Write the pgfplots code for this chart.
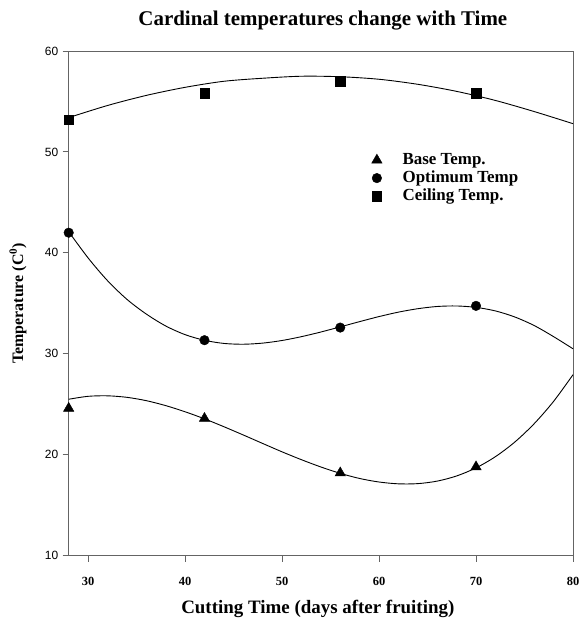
\documentclass[border=0pt]{standalone}
\usepackage{pgfplots}
\pgfplotsset{compat=1.18}
\usepackage{fontspec}
\setmainfont{Liberation Serif}
\setsansfont{Liberation Sans}

\definecolor{axisgray}{RGB}{100,100,100}

\begin{document}
\begin{tikzpicture}
% page frame: the axis box sits at (0,0) with the reference's margins around it
\path[use as bounding box] (-68.7bp,-63.3bp) rectangle (510.3bp,504.7bp+51bp);
\begin{axis}[
    at={(0,0)}, anchor=south west,
    scale only axis,
    width=504.3bp, height=504.7bp,
    xmin=28, xmax=80, ymin=10, ymax=60,
    xtick={30,40,...,80},
    ytick={10,20,...,60},
    axis line style={axisgray, line width=0.9bp},
    tick style={axisgray, line width=0.9bp},
    xtick pos=bottom, ytick pos=left,
    tick align=outside,
    major tick length=6bp,
    /pgf/number format/assume math mode=true,
    xticklabel style={font=\fontsize{12.5}{12.5}\selectfont\bfseries, yshift=-12bp},
    yticklabel style={font=\fontsize{12}{12}\selectfont\sffamily, xshift=-1bp},
    title={Cardinal temperatures change with Time},
    title style={font=\fontsize{21}{21}\selectfont\bfseries,
        at={(axis description cs:0.504,1.0383)}, anchor=base},
    xlabel={Cutting Time (days after fruiting)},
    xlabel style={font=\fontsize{19}{19}\selectfont\bfseries,
        at={(axis description cs:0.494,-0.1187)}, anchor=base, yshift=2.5bp},
    ylabel={Temperature (C\textsuperscript{0})},
    ylabel style={font=\fontsize{16}{16}\selectfont\bfseries,
        at={(axis description cs:-0.1005,0.5)}, anchor=center},
    legend style={draw=none, fill=none,
        at={(axis description cs:0.5945,0.806)}, anchor=north west,
        font=\fontsize{17}{18}\selectfont\bfseries,
        nodes={inner sep=1.5bp, text height=11.5bp, text depth=3.5bp},
        /tikz/every odd column/.append style={column sep=19bp}},
    legend cell align=left,
]

% fitted curves
\addplot[black, line width=0.9bp, smooth, forget plot] coordinates {
    (28,25.50) (30,25.79) (32,25.84) (34,25.69) (36,25.36) (38,24.87)
    (40,24.26) (42,23.56) (44,22.78) (46,21.96) (48,21.12) (50,20.29)
    (52,19.51) (54,18.79) (56,18.16) (58,17.65) (60,17.30) (62,17.12)
    (64,17.14) (66,17.39) (68,17.90) (70,18.70) (72,19.81) (74,21.26)
    (76,23.08) (78,25.29) (80,27.93)
};
\addplot[black, line width=0.9bp, smooth, forget plot] coordinates {
    (28,42.1) (30,39.5) (32,37.25) (34,35.4) (36,33.94) (38,32.76)
    (40,31.90) (42,31.34) (44,31.03) (46,30.95) (48,31.06) (50,31.32)
    (52,31.70) (54,32.16) (56,32.67) (58,33.19) (60,33.69) (62,34.13)
    (64,34.47) (66,34.69) (68,34.74) (70,34.60) (72,34.25) (74,33.65)
    (76,32.8) (78,31.7) (80,30.5)
};
\addplot[black, line width=0.9bp, smooth, forget plot] coordinates {
    (28,53.4) (32,54.6) (36,55.6) (40,56.4) (44,57.0) (48,57.3) (52,57.5)
    (56,57.45) (60,57.2) (64,56.7) (68,56.0) (72,55.1) (76,54.0) (80,52.8)
};

% measured points
\addplot[only marks, mark=triangle*, mark size=6bp, black] coordinates {
    (28,24.6) (42,23.6) (56,18.2) (70,18.8)
};
\addlegendentry{Base Temp.}
\addplot[only marks, mark=*, mark size=4.8bp, black] coordinates {
    (28,42.0) (42,31.35) (56,32.6) (70,34.75)
};
\addlegendentry{Optimum Temp}
\addplot[only marks, mark=square*, mark size=4.7bp, black] coordinates {
    (28,53.2) (42,55.8) (56,57.0) (70,55.8)
};
\addlegendentry{Ceiling Temp.}

\end{axis}
\end{tikzpicture}
\end{document}
